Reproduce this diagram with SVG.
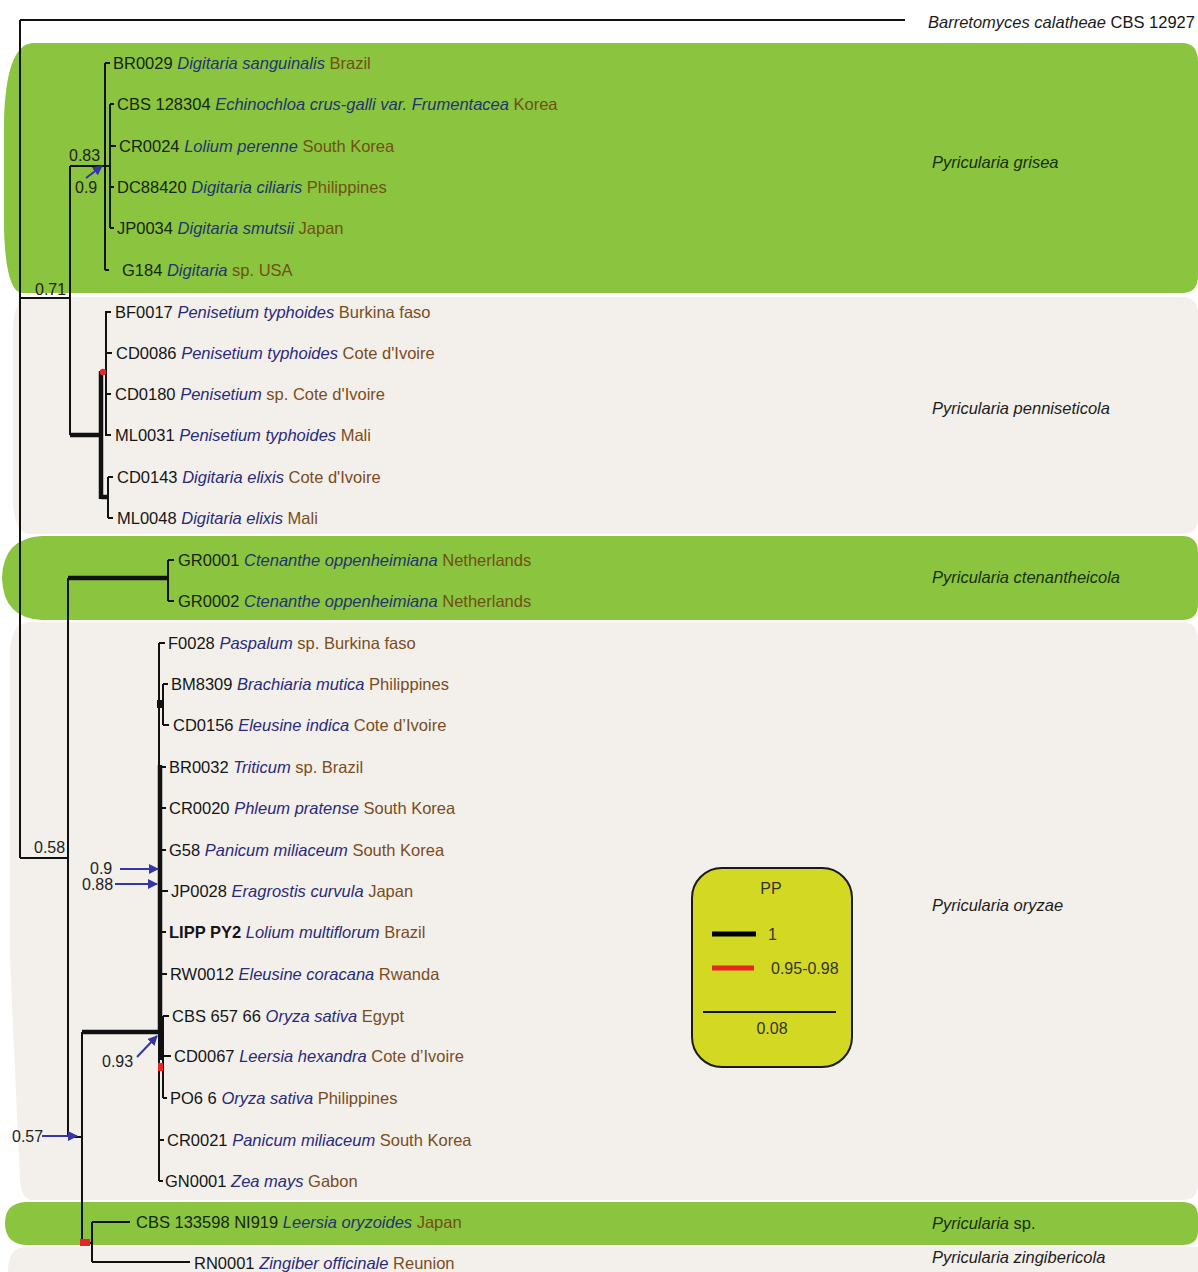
<svg xmlns="http://www.w3.org/2000/svg" width="1198" height="1272" viewBox="0 0 1198 1272">
<style>
text{font-family:"Liberation Sans",Arial,sans-serif;font-size:16.5px}
.c{fill:#151515}
.s{fill:#2a2a78;font-style:italic}
.k{fill:#7a4c1e}
.g .s{fill:#1f3470}
.g .k{fill:#6e5214}
.g .c{fill:#14260c}
.lab{font-style:italic;fill:#1c1c1c}
.glab{font-style:italic;fill:#163009}
.num{font-size:16px;fill:#222}
.lg{font-size:16px;fill:#333}
.br{stroke:#111;stroke-width:2;fill:none}
.tk{stroke:#111;stroke-width:4.5;fill:none}
.bl{stroke:#3535a5;stroke-width:2;fill:none;marker-end:url(#ah)}
.green{fill:#8bc43f}
.beige{fill:#f3f0eb}
</style>
<defs>
<marker id="ah" viewBox="0 0 10 10" refX="9" refY="5" markerWidth="5" markerHeight="5" orient="auto" markerUnits="strokeWidth">
<path d="M0,0 L10,5 L0,10 Z" fill="#3535a5"/>
</marker>
</defs>
<rect width="1198" height="1272" fill="#ffffff"/>
<g id="bands">
<path id="band-grisea" class="green" d="M32 43 H1182 Q1198 43 1198 62 V276 Q1198 293 1182 293 H22 Q6 292 4 230 V120 Q6 46 32 43 Z"/>
<path id="band-penniseticola" class="beige" d="M30 297 H1182 Q1198 297 1198 314 V518 Q1198 534 1182 534 H30 Q14 534 13 500 V330 Q14 297 30 297 Z"/>
<path id="band-ctenantheicola" class="green" d="M42 536 H1182 Q1198 536 1198 553 V604 Q1198 620 1182 620 H42 Q3 618 2 578 Q3 538 42 536 Z"/>
<path id="band-oryzae" class="beige" d="M30 622 H1182 Q1198 622 1198 640 V1184 Q1198 1200 1182 1200 H32 Q22 1200 20 1180 L10 960 V650 Q12 622 30 622 Z"/>
<path id="band-sp" class="green" d="M26 1202 H1182 Q1198 1202 1198 1216 V1231 Q1198 1245 1182 1245 H26 Q5 1244 5 1223 Q5 1203 26 1202 Z"/>
<path id="band-zingibericola" class="beige" d="M24 1247 H1198 V1272 H8 Q8 1248 24 1247 Z"/>
</g>
<g id="connectors">
<path class="br" d="M20 20 H905 M20 20 V858 M20 858 H68 M20 298 H70 M70 166 V435 M70 166 H105"/>
<path class="br" d="M105 63 V270 M105 63 H110 M105 270 H109 M105 166 H110 M110 104 V228 M110 104 H114 M110 146 H116 M110 187 H114 M110 228 H114"/>
<path class="tk" d="M70 435 H101 M101 371 V499 M101 497 H108"/>
<path class="br" d="M101 371 H106 M106 311 V436 M106 312 H111 M106 353 H112 M106 394 H111 M106 435 H111 M108 477 V518 M108 477 H113 M108 518 H113"/>
<circle cx="103" cy="372" r="3.2" fill="#e8262a"/>
<path class="tk" d="M68 578 H168"/>
<path class="br" d="M168 560 V601 M168 560 H174 M168 601 H174"/>
<path class="br" d="M68 578 V1137 M68 1137 H82 M82 1032 V1243"/>
<path class="tk" d="M82 1032 H160 M160 765 V1032"/>
<path class="br" d="M159 643 V1181 M159 643 H165 M159 767 H166 M159 808 H166 M159 850 H166 M159 891 H168 M159 932 H166 M159 974 H167 M159 1140 H164 M159 1181 H163"/>
<rect x="157" y="700" width="6" height="8" fill="#111"/>
<path class="br" d="M163 684 V725 M163 684 H168 M163 725 H169"/>
<path class="br" d="M163 1016 V1098 M163 1016 H169 M163 1056 H171 M163 1098 H167"/>
<path class="tk" d="M161 1032 V1060"/>
<rect x="158" y="1063" width="5" height="8" fill="#e8262a"/>
<path class="br" d="M82 1243 H92 M92 1222 V1262 M92 1222 H130 M92 1262 H190"/>
<rect x="80" y="1239" width="10" height="7" fill="#e8262a"/>
<path class="bl" d="M86 178 L102 166"/>
<path class="bl" d="M120 869 H158"/>
<path class="bl" d="M115 884 H157"/>
<path class="bl" d="M137 1057 L157 1036"/>
<path class="bl" d="M42 1136 L77 1136"/>
</g>
<g id="support">
<text class="num" x="69" y="161">0.83</text>
<text class="num" x="75" y="193">0.9</text>
<text class="num" x="35" y="295">0.71</text>
<text class="num" x="34" y="853">0.58</text>
<text class="num" x="90" y="874">0.9</text>
<text class="num" x="82" y="890">0.88</text>
<text class="num" x="102" y="1067">0.93</text>
<text class="num" x="12" y="1142">0.57</text>
</g>
<g id="outgroup"><text x="928" y="28" class="c"><tspan class="lab">Barretomyces calatheae</tspan> CBS 12927</text></g>
<g id="grisea" class="g">
<text x="113" y="69"><tspan class="c">BR0029 </tspan><tspan class="s">Digitaria sanguinalis</tspan><tspan class="k"> Brazil</tspan></text>
<text x="117" y="110"><tspan class="c">CBS 128304 </tspan><tspan class="s">Echinochloa crus-galli var. Frumentacea</tspan><tspan class="k"> Korea</tspan></text>
<text x="119" y="152"><tspan class="c">CR0024 </tspan><tspan class="s">Lolium perenne</tspan><tspan class="k"> South Korea</tspan></text>
<text x="117" y="193"><tspan class="c">DC88420 </tspan><tspan class="s">Digitaria ciliaris</tspan><tspan class="k"> Philippines</tspan></text>
<text x="117" y="234"><tspan class="c">JP0034 </tspan><tspan class="s">Digitaria smutsii</tspan><tspan class="k"> Japan</tspan></text>
<text x="122" y="276"><tspan class="c">G184 </tspan><tspan class="s">Digitaria</tspan><tspan class="k"> sp. USA</tspan></text>
<text x="932" y="168" class="glab">Pyricularia grisea</text>
</g>
<g id="penniseticola">
<text x="115" y="318"><tspan class="c">BF0017 </tspan><tspan class="s">Penisetium typhoides</tspan><tspan class="k"> Burkina faso</tspan></text>
<text x="116" y="359"><tspan class="c">CD0086 </tspan><tspan class="s">Penisetium typhoides</tspan><tspan class="k"> Cote d'Ivoire</tspan></text>
<text x="115" y="400"><tspan class="c">CD0180 </tspan><tspan class="s">Penisetium</tspan><tspan class="k"> sp. Cote d'Ivoire</tspan></text>
<text x="115" y="441"><tspan class="c">ML0031 </tspan><tspan class="s">Penisetium typhoides</tspan><tspan class="k"> Mali</tspan></text>
<text x="117" y="483"><tspan class="c">CD0143 </tspan><tspan class="s">Digitaria elixis</tspan><tspan class="k"> Cote d'Ivoire</tspan></text>
<text x="117" y="524"><tspan class="c">ML0048 </tspan><tspan class="s">Digitaria elixis</tspan><tspan class="k"> Mali</tspan></text>
<text x="932" y="414" class="lab">Pyricularia penniseticola</text>
</g>
<g id="ctenantheicola" class="g">
<text x="178" y="566"><tspan class="c">GR0001 </tspan><tspan class="s">Ctenanthe oppenheimiana</tspan><tspan class="k"> Netherlands</tspan></text>
<text x="178" y="607"><tspan class="c">GR0002 </tspan><tspan class="s">Ctenanthe oppenheimiana</tspan><tspan class="k"> Netherlands</tspan></text>
<text x="932" y="583" class="glab">Pyricularia ctenantheicola</text>
</g>
<g id="oryzae">
<text x="168" y="649"><tspan class="c">F0028 </tspan><tspan class="s">Paspalum</tspan><tspan class="k"> sp. Burkina faso</tspan></text>
<text x="171" y="690"><tspan class="c">BM8309 </tspan><tspan class="s">Brachiaria mutica</tspan><tspan class="k"> Philippines</tspan></text>
<text x="173" y="731"><tspan class="c">CD0156 </tspan><tspan class="s">Eleusine indica</tspan><tspan class="k"> Cote d’Ivoire</tspan></text>
<text x="169" y="773"><tspan class="c">BR0032 </tspan><tspan class="s">Triticum</tspan><tspan class="k"> sp. Brazil</tspan></text>
<text x="169" y="814"><tspan class="c">CR0020 </tspan><tspan class="s">Phleum pratense</tspan><tspan class="k"> South Korea</tspan></text>
<text x="169" y="856"><tspan class="c">G58 </tspan><tspan class="s">Panicum miliaceum</tspan><tspan class="k"> South Korea</tspan></text>
<text x="171" y="897"><tspan class="c">JP0028 </tspan><tspan class="s">Eragrostis curvula</tspan><tspan class="k"> Japan</tspan></text>
<text x="169" y="938"><tspan class="c" font-weight="bold">LIPP PY2 </tspan><tspan class="s">Lolium multiflorum</tspan><tspan class="k"> Brazil</tspan></text>
<text x="170" y="980"><tspan class="c">RW0012 </tspan><tspan class="s">Eleusine coracana</tspan><tspan class="k"> Rwanda</tspan></text>
<text x="172" y="1022"><tspan class="c">CBS 657 66 </tspan><tspan class="s">Oryza sativa</tspan><tspan class="k"> Egypt</tspan></text>
<text x="174" y="1062"><tspan class="c">CD0067 </tspan><tspan class="s">Leersia hexandra</tspan><tspan class="k"> Cote d’Ivoire</tspan></text>
<text x="170" y="1104"><tspan class="c">PO6 6 </tspan><tspan class="s">Oryza sativa</tspan><tspan class="k"> Philippines</tspan></text>
<text x="167" y="1146"><tspan class="c">CR0021 </tspan><tspan class="s">Panicum miliaceum</tspan><tspan class="k"> South Korea</tspan></text>
<text x="165" y="1187"><tspan class="c">GN0001 </tspan><tspan class="s">Zea mays</tspan><tspan class="k"> Gabon</tspan></text>
<text x="932" y="911" class="lab">Pyricularia oryzae</text>
</g>
<g id="sp" class="g">
<text x="136" y="1228"><tspan class="c">CBS 133598 NI919 </tspan><tspan class="s">Leersia oryzoides</tspan><tspan class="k"> Japan</tspan></text>
<text x="932" y="1229" class="glab">Pyricularia<tspan font-style="normal"> sp.</tspan></text>
</g>
<g id="zingibericola">
<text x="194" y="1269"><tspan class="c">RN0001 </tspan><tspan class="s">Zingiber officinale</tspan><tspan class="k"> Reunion</tspan></text>
<text x="932" y="1263" class="lab">Pyricularia zingibericola</text>
</g>
<g id="legend">
<rect x="692" y="868" width="160" height="199" rx="30" ry="30" fill="#d3d822" stroke="#1a1a1a" stroke-width="2"/>
<text x="771" y="894" text-anchor="middle" class="lg">PP</text>
<line x1="712" y1="934" x2="756" y2="934" stroke="#000" stroke-width="5"/>
<text x="768" y="940" class="lg">1</text>
<line x1="712" y1="968" x2="754" y2="968" stroke="#e8261e" stroke-width="5"/>
<text x="771" y="974" class="lg">0.95-0.98</text>
<line x1="703" y1="1012" x2="836" y2="1012" stroke="#111" stroke-width="2"/>
<text x="772" y="1034" text-anchor="middle" class="lg">0.08</text>
</g>
</svg>
